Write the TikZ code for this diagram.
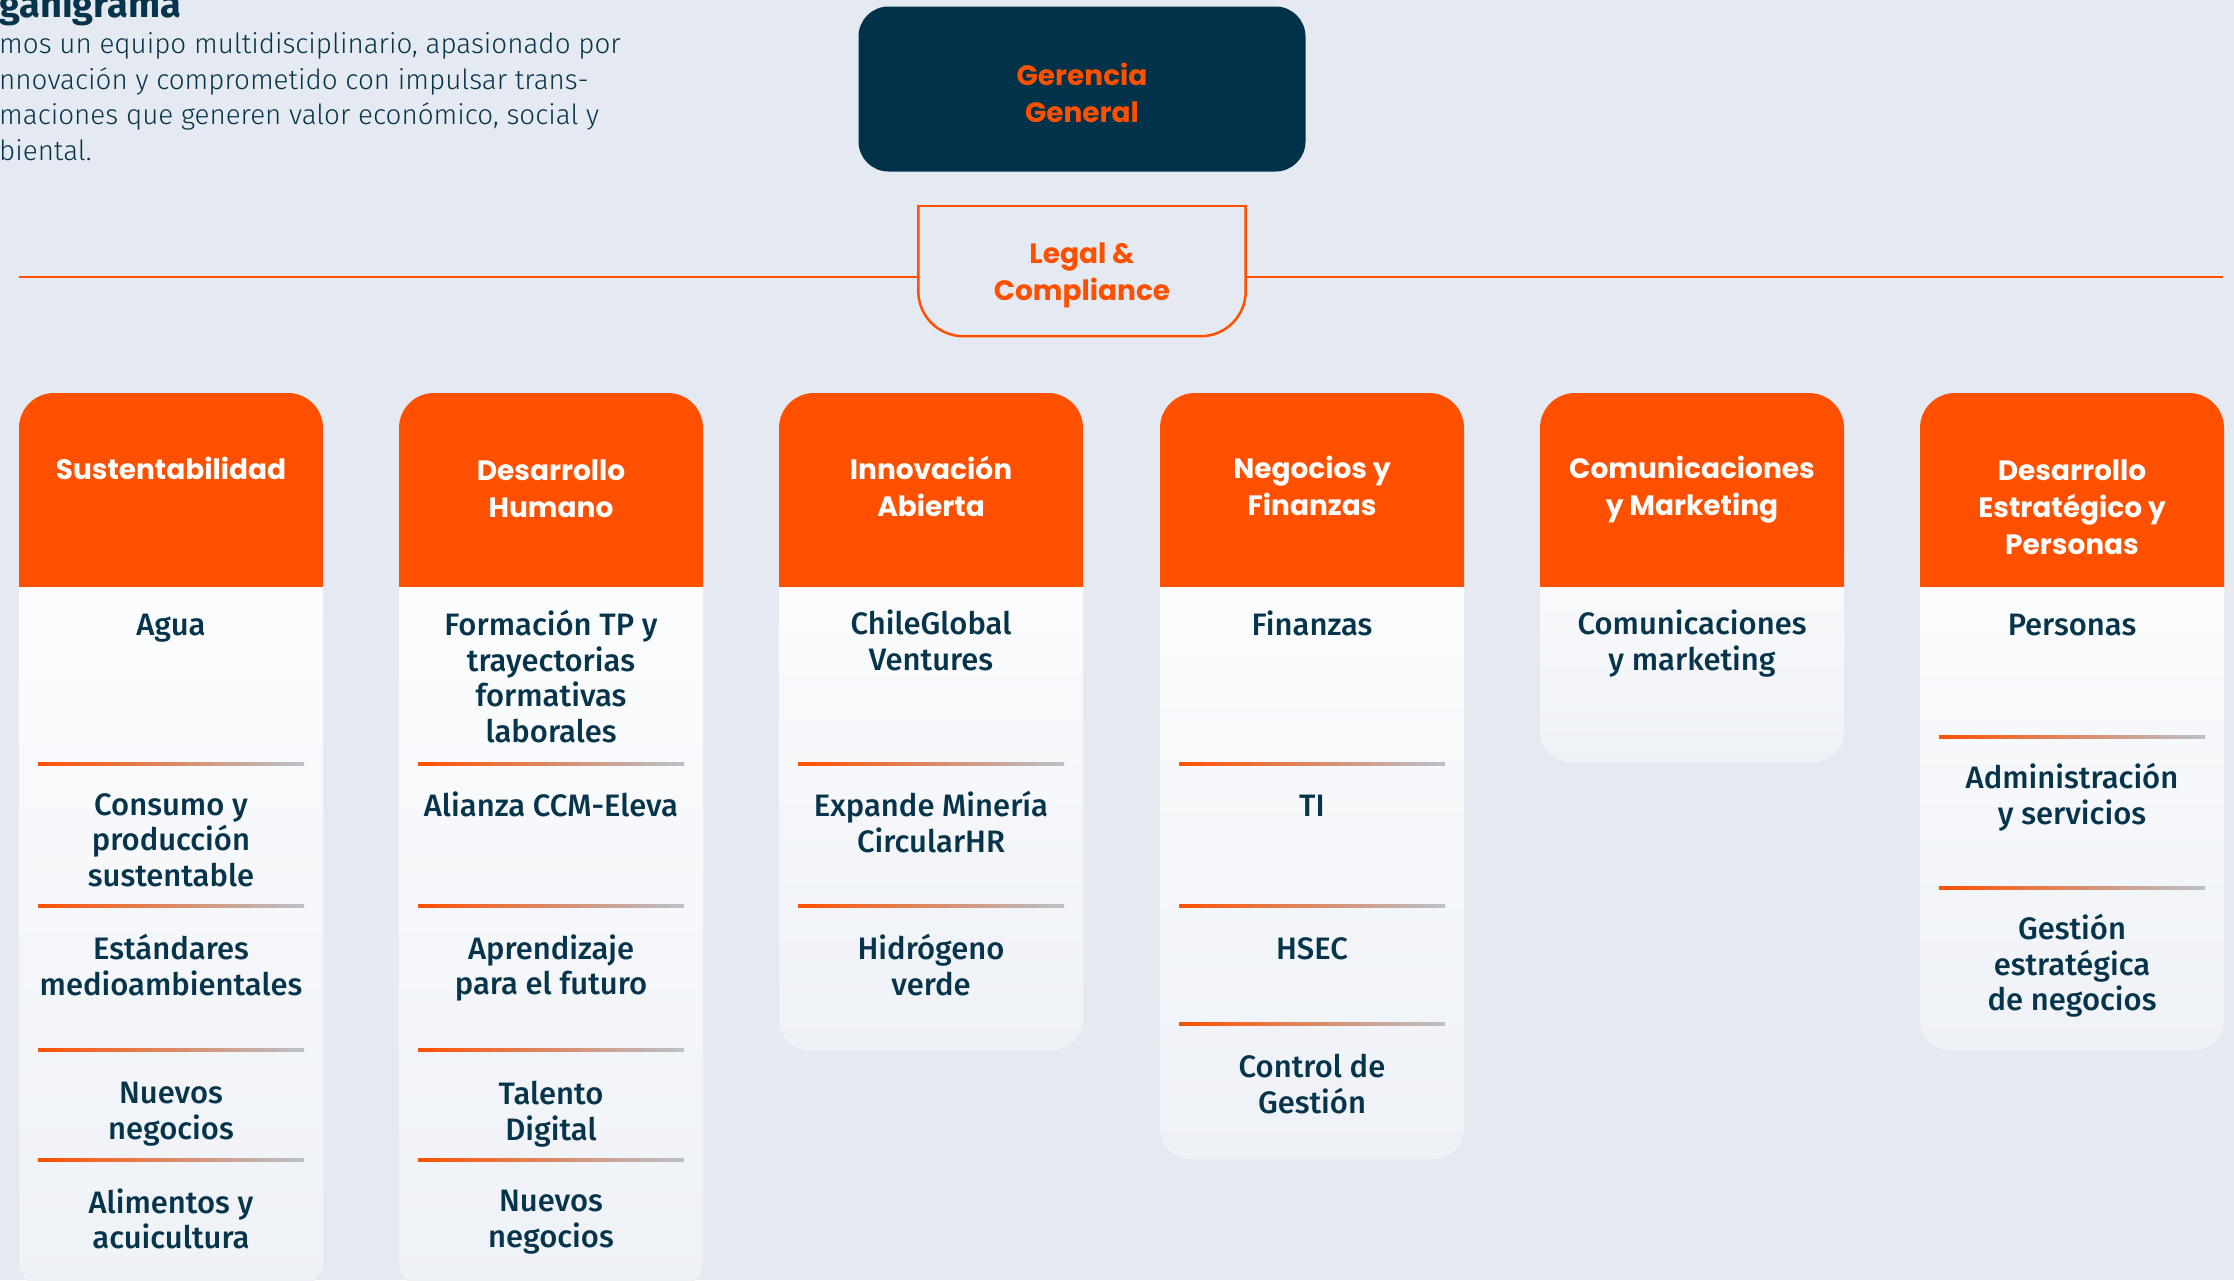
\documentclass[tikz,border=0pt]{standalone}
\usepackage{fontspec}
\setmainfont{Fira Sans}
\newfontfamily\headfont{Poppins}
\newfontfamily\itemfont{Fira Sans Medium}
\newfontfamily\lightfont{Fira Sans Light}

\definecolor{org}    {RGB}{255,80,0}
\definecolor{nav}    {RGB}{0,51,73}
\definecolor{txt}    {RGB}{6,52,74}
\definecolor{bgc}    {RGB}{229,234,242}
\definecolor{cardtop}{RGB}{252,253,254}
\definecolor{cardbot}{RGB}{238,241,246}
\definecolor{sepg}   {RGB}{185,194,203}

\tikzset{
  head/.style={anchor=north, yshift=25.9pt, align=center, inner sep=0pt, text=white,
    font=\headfont\bfseries\fontsize{28}{37}\selectfont, execute at begin node=\strut},
  item/.style={anchor=north, yshift=24.92pt, align=center, inner sep=0pt, text=txt,
    font=\itemfont\fontsize{31}{35.6}\selectfont, execute at begin node=\strut},
  para/.style={anchor=base west, inner sep=0pt, text=txt,
    font=\lightfont\fontsize{27.8}{35.6}\selectfont},
}

% card: left x, bottom y
\newcommand{\card}[2]{%
  \shade[top color=cardtop, bottom color=cardbot, rounded corners=30pt] (#1,520) rectangle (#1+304,#2);
  \begin{scope}
    \clip (#1,393) rectangle (#1+304,586);
    \fill[org, rounded corners=35pt] (#1,393) rectangle (#1+304,700);
  \end{scope}}
% divider inside a card: left x of card, y
\newcommand{\divline}[2]{%
  \shade[left color=org, right color=sepg] (#1+19,#2-1.5) rectangle (#1+285,#2+1.5);}

\begin{document}
\begin{tikzpicture}[x=1pt, y=-1pt]

    \useasboundingbox (0,0) rectangle (2234,1280);
    \clip (0,0) rectangle (2234,1280);
    \fill[bgc] (0,0) rectangle (2234,1280);

    % intro text (cut at the left edge)
    \node[para, font=\bfseries\fontsize{38}{38}\selectfont] (ttl) at (-1,17) {ganigrama};
    \node[para] (p1) at (-1,53) {mos un equipo multidisciplinario, apasionado por};
    \node[para] (p2) at (-1,89) {nnovación y comprometido con impulsar trans-};
    \node[para] (p3) at (-1,124) {maciones que generen valor económico, social y};
    \node[para] (p4) at (-1,160) {biental.};

    % top
    \node[fill=nav, rounded corners=30pt, minimum width=447pt, minimum height=165pt] (gg) at (1082,89) {};
    \node[align=center, text=org, font=\headfont\bfseries\fontsize{28}{37}\selectfont] (ggt) at ([yshift=-4pt]gg) {Gerencia\\General};

    \node[minimum width=327pt, minimum height=130pt] (lc) at (1082,271) {};
    \coordinate (ll) at (19,277);
    \coordinate (lr) at (2223,277);
    \draw[org, line width=2.5pt] (ll) -- (ll -| lc.west);
    \draw[org, line width=2.5pt] (lr -| lc.east) -- (lr);
    \begin{scope}
      \clip ([xshift=-5pt]lc.north west) rectangle ([xshift=5pt, yshift=-5pt]lc.south east);
      \draw[org, line width=2.5pt, fill=bgc, rounded corners=45pt] ([yshift=60pt]lc.north west) rectangle (lc.south east);
    \end{scope}
    \draw[org, line width=2.5pt, line cap=rect] (lc.north west) -- (lc.north east);
    \node[align=center, text=org, font=\headfont\bfseries\fontsize{28}{37}\selectfont] (lct) at ([yshift=-4pt]lc) {Legal \&\\Compliance};

    % cards
    \card{19}{1290}
    \card{399}{1290}
    \card{779}{1050}
    \card{1160}{1159}
    \card{1540}{762}
    \card{1920}{1050}

    \divline{19}{764}   \divline{19}{906}   \divline{19}{1050}   \divline{19}{1160}
    \divline{399}{764}  \divline{399}{906}  \divline{399}{1050}  \divline{399}{1160}
    \divline{779}{764}  \divline{779}{906}
    \divline{1160}{764} \divline{1160}{906} \divline{1160}{1024}
    \divline{1920}{737} \divline{1920}{888}

    \node[head] (h1) at (171,479) {Sustentabilidad};
    \node[head] (h2) at (551,485) {Desarrollo\\Humano};
    \node[head] (h3) at (931,482) {Innovación\\Abierta};
    \node[head] (h4) at (1312,482) {Negocios y\\Finanzas};
    \node[head] (h5) at (1692,482) {Comunicaciones\\y Marketing};
    \node[head] (h6) at (2072,485) {Desarrollo\\Estratégico y\\Personas};

    \node[item] (a1) at (171,635) {Agua};
    \node[item] (a2) at (171,818) {Consumo y\\producción\\sustentable};
    \node[item] (a3) at (171,959) {Estándares\\medioambientales};
    \node[item] (a4) at (171,1107) {Nuevos\\negocios};
    \node[item] (a5) at (171,1213) {Alimentos y\\acuicultura};

    \node[item] (b1) at (551,635) {Formación TP y\\trayectorias\\formativas\\laborales};
    \node[item] (b2) at (551,816) {Alianza CCM-Eleva};
    \node[item] (b3) at (551,959) {Aprendizaje\\para el futuro};
    \node[item] (b4) at (551,1106) {Talento\\Digital};
    \node[item] (b5) at (551,1215) {Nuevos\\negocios};

    \node[item] (c1) at (931,635) {ChileGlobal\\Ventures};
    \node[item] (c2) at (931,816) {Expande Minería\\CircularHR};
    \node[item] (c3) at (931,959) {Hidrógeno\\verde};

    \node[item] (d1) at (1312,635) {Finanzas};
    \node[item] (d2) at (1312,816) {TI};
    \node[item] (d3) at (1312,959) {HSEC};
    \node[item] (d4) at (1312,1079) {Control de\\Gestión};

    \node[item] (e1) at (1692,635) {Comunicaciones\\y marketing};

    \node[item] (f1) at (2072,635) {Personas};
    \node[item] (f2) at (2072,788) {Administración\\y servicios};
    \node[item] (f3) at (2072,939) {Gestión\\estratégica\\de negocios};

\end{tikzpicture}
\end{document}
